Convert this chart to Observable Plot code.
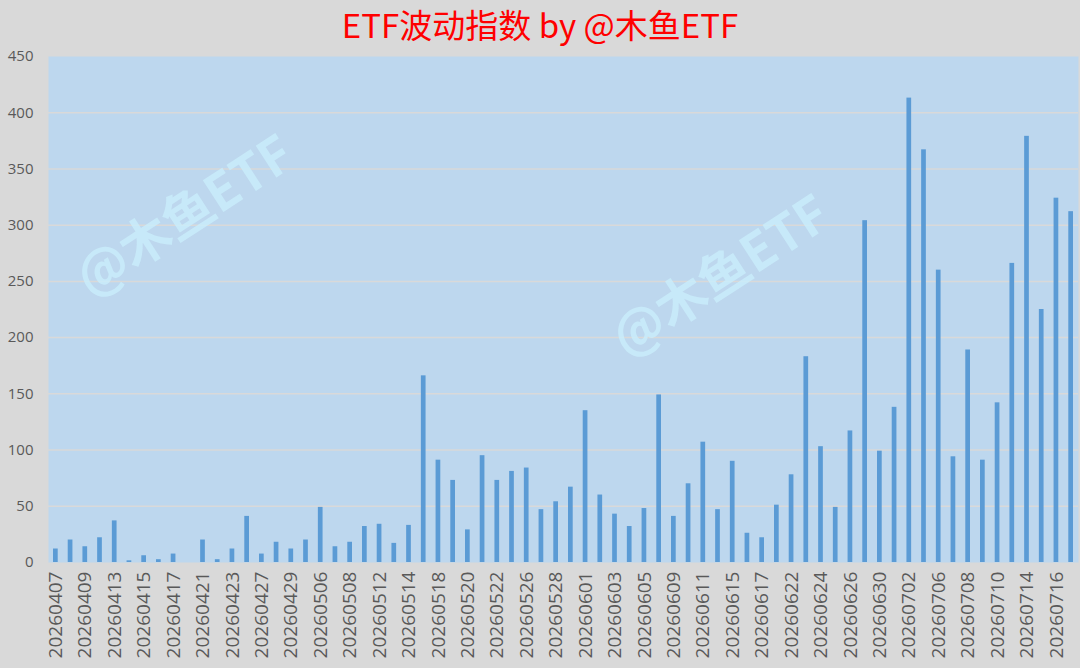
<!DOCTYPE html>
<html>
<head>
<meta charset="utf-8">
<script src="https://cdn.jsdelivr.net/npm/d3@7"></script>
<script src="https://cdn.jsdelivr.net/npm/@observablehq/plot@0.6"></script>
<style>
  body { margin: 0; background: #d9d9d9; }
  #title {
    height: 44px;
    line-height: 46px;
    text-align: center;
    color: #ff0000;
    font: 33px "Noto Sans CJK SC", sans-serif;
  }
</style>
</head>
<body>
<div id="title">ETF波动指数 by @木鱼ETF</div>
<div id="chart"></div>
<script>
// trading days shown on the x axis
const dates = [
  "20260407", "20260408", "20260409", "20260410", "20260413", "20260414", "20260415", "20260416", "20260417", "20260420",
  "20260421", "20260422", "20260423", "20260424", "20260427", "20260428", "20260429", "20260430", "20260506", "20260507",
  "20260508", "20260511", "20260512", "20260513", "20260514", "20260515", "20260518", "20260519", "20260520", "20260521",
  "20260522", "20260525", "20260526", "20260527", "20260528", "20260529", "20260601", "20260602", "20260603", "20260604",
  "20260605", "20260608", "20260609", "20260610", "20260611", "20260612", "20260615", "20260616", "20260617", "20260618",
  "20260622", "20260623", "20260624", "20260625", "20260626", "20260629", "20260630", "20260701", "20260702", "20260703",
  "20260706", "20260707", "20260708", "20260709", "20260710", "20260713", "20260714", "20260715", "20260716", "20260717"
];

// volatility index
const values = [
  12, 20, 14, 22, 37, 1.5, 6, 2.5, 7.5, 0,
  20, 2.5, 12, 41, 7.5, 18, 12, 20, 49, 14,
  18, 32, 34, 17, 33, 166, 91, 73, 29, 95,
  73, 81, 84, 47, 54, 67, 135, 60, 43, 32,
  48, 149, 41, 70, 107, 47, 90, 26, 22, 51,
  78, 183, 103, 49, 117, 304, 99, 138, 413, 367,
  260, 94, 189, 91, 142, 266, 379, 225, 324, 312
];

const yTicks = [0, 50, 100, 150, 200, 250, 300, 350, 400, 450];
const xTicks = dates.filter((d, i) => i % 2 === 0);
const watermark = "@木鱼ETF";

const data = dates.map((d, i) => ({ date: d, value: values[i] }));

const wmStyle = {
  text: d => d,
  fontSize: 51,
  fontWeight: "bold",
  fontFamily: "Noto Sans CJK SC",
  fill: "#c9ecfa",
  fillOpacity: 0.85,
  rotate: -33,
  textAnchor: "middle",
  frameAnchor: "top-left"
};

const chart = Plot.plot({
  width: 1080,
  height: 624,
  marginTop: 12,
  marginBottom: 106,
  marginLeft: 48,
  marginRight: 2,
  style: { background: "transparent", fontFamily: "Open Sans", color: "#595959" },
  x: { domain: dates, paddingInner: 0.68, paddingOuter: 0.34, label: null },
  y: { domain: [0, 450], label: null },
  marks: [
    Plot.frame({ fill: "#bdd7ee", stroke: null }),
    Plot.gridY(yTicks.filter(t => t > 0 && t < 450), { stroke: "#d9d9d9", strokeOpacity: 1, strokeWidth: 1.5 }),
    Plot.barY(data, { x: "date", y: "value", fill: "#5b9bd5" }),
    Plot.axisY({ ticks: yTicks, tickSize: 0, tickPadding: 15, fontSize: 15, label: null }),
    Plot.axisX({ ticks: xTicks, tickSize: 0, tickPadding: 9, tickRotate: -90, fontSize: 19, label: null }),
    Plot.text([watermark], { ...wmStyle, dx: 126, dy: 144 }),
    Plot.text([watermark], { ...wmStyle, dx: 662, dy: 204 })
  ]
});

d3.select(chart).attr("id", "chart1");
document.getElementById("chart").appendChild(chart);
</script>
</body>
</html>
